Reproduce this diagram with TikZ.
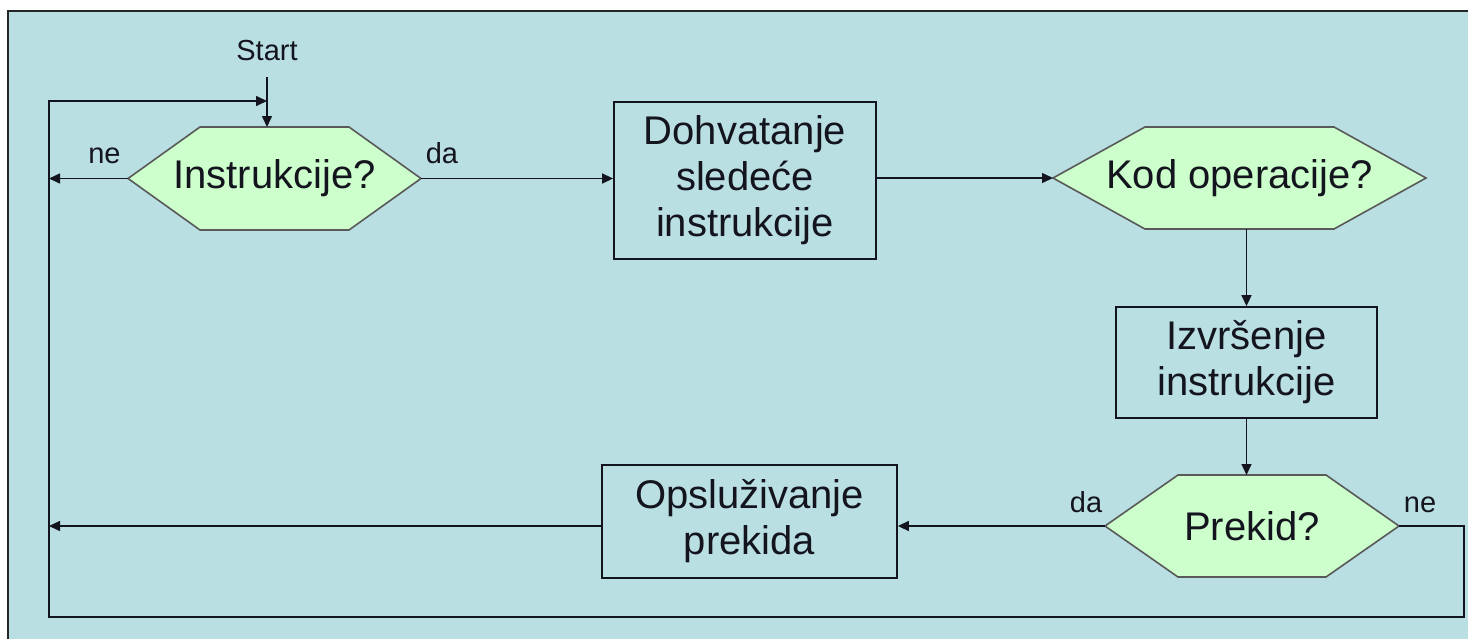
\documentclass[tikz,border=0pt]{standalone}
\usepackage{fontspec}
\setmainfont{Liberation Sans}
\usetikzlibrary{arrows.meta,calc}
\definecolor{bgblue}{RGB}{185,223,226}
\definecolor{hexgreen}{RGB}{204,255,204}
\definecolor{inkc}{RGB}{20,20,30}
\tikzset{
  conn/.style={line width=1.5pt, draw=inkc},
  arr/.style={conn, -{Triangle[length=11pt,width=10pt]}},
  procbox/.style={draw=inkc, line width=1.8pt, align=center, inner sep=0pt,
    font=\fontsize{40}{46}\selectfont, text=inkc},
  hexshape/.style={draw=black!65, fill=hexgreen, line width=1.6pt},
  hextext/.style={inner sep=0pt, font=\fontsize{40}{46}\selectfont, text=inkc},
  lbl/.style={inner sep=0pt, anchor=base, font=\fontsize{29}{34}\selectfont, text=inkc},
}
% #1 name, #2 left x, #3 right x, #4 top y, #5 bottom y, #6 slant, #7 text
\newcommand\hexdecision[7]{%
  \path[hexshape] (#2,{(#4+#5)/2}) -- (#2+#6,#4) -- (#3-#6,#4) -- (#3,{(#4+#5)/2})
     -- (#3-#6,#5) -- (#2+#6,#5) -- cycle;
  \coordinate (#1-w) at (#2,{(#4+#5)/2});
  \coordinate (#1-e) at (#3,{(#4+#5)/2});
  \coordinate (#1-n) at ({(#2+#3)/2},#4);
  \coordinate (#1-s) at ({(#2+#3)/2},#5);
  \node[hextext] (#1) at ({(#2+#3)/2},{(#4+#5)/2}) {#7};
}
\begin{document}
\begin{tikzpicture}[x=1pt,y=-1pt]
\useasboundingbox (0,0) rectangle (1468,638);
\clip (0,0) rectangle (1468,638);
\fill[white] (0,0) rectangle (1468,638);
\fill[bgblue] (8,11) rectangle (1480,650);
\draw[line width=2.6pt, draw=black!85] (8,650) -- (8,11) -- (1480,11);

% decisions
\hexdecision{ins}{128}{421}{127}{230}{72}{Instrukcije?}
\hexdecision{kod}{1053}{1426}{127}{229}{92}{Kod operacije?}
\hexdecision{prek}{1105}{1399}{475}{577}{73}{Prekid?}

% process boxes
\node[procbox, minimum width=262pt, minimum height=157pt] (dohv) at (745,180.5)
  {Dohvatanje\\sledeće\\instrukcije};
\node[procbox, minimum width=261pt, minimum height=111pt] (izv) at (1246.5,362.5)
  {Izvršenje\\instrukcije};
\node[procbox, minimum width=295pt, minimum height=113pt] (ops) at (749.5,521.5)
  {Opsluživanje\\prekida};

% labels
\node[lbl] (start) at (267,60) {Start};
\node[lbl] (insne) at (104.5,163) {ne};
\node[lbl] (insda) at (442,163) {da};
\node[lbl] (prekda) at (1086,512) {da};
\node[lbl] (prekne) at (1420,512) {ne};

% loop coordinates
\coordinate (startTop) at (267,77);
\coordinate (loopTL) at (49,101);
\coordinate (loopBL) at (49,617);
\coordinate (loopBR) at (1464,617);

% connectors
\draw[arr] (startTop) -- (startTop |- ins-n);
\draw[arr] (prek-e) -- (prek-e -| loopBR) -- (loopBR) -- (loopBL) -- (loopTL) -- (loopTL -| startTop);
\draw[arr] (ins-w) -- (ins-w -| loopTL);
\draw[arr] (ins-e) -- (ins-e -| dohv.west);
\draw[arr] (dohv.east |- kod-w) -- (kod-w);
\draw[arr] (izv.north |- kod-s) -- (izv.north);
\draw[arr] (izv.south) -- (izv.south |- prek-n);
\draw[arr] (prek-w) -- (prek-w -| ops.east);
\draw[arr] (ops.west |- prek-w) -- (prek-w -| loopTL);
\end{tikzpicture}
\end{document}
